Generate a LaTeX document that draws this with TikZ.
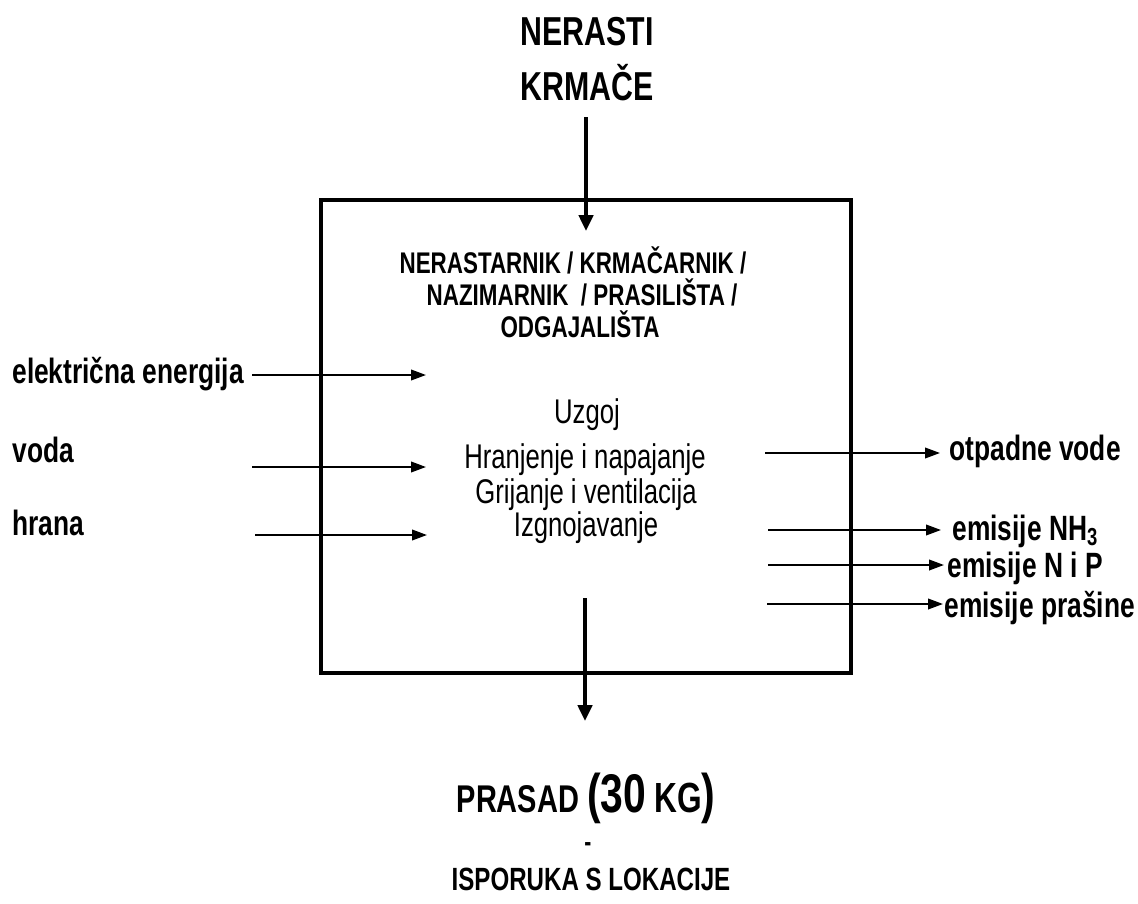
\documentclass[tikz,border=0pt]{standalone}
\usepackage{fontspec}
\setmainfont{Liberation Sans}[FakeStretch=0.75]
\usetikzlibrary{arrows.meta}

\begin{document}
\begin{tikzpicture}[
                x=0.02cm, y=-0.02cm,
                every node/.style={inner sep=0, anchor=base},
                naslov/.style={font=\fontsize{23}{27}\selectfont\bfseries},
                objekt/.style={font=\fontsize{17}{20}\selectfont\bfseries},
                proces/.style={font=\fontsize{19.5}{23}\selectfont},
                oznaka/.style={font=\fontsize{20}{24}\selectfont\bfseries, anchor=base west},
                okvir/.style={draw, line width=2.8pt},
                glavni/.style={line width=2.2pt, -{Triangle[length=9pt, width=8pt]}},
                tok/.style={line width=1.1pt, -{Triangle[length=8.5pt, width=6pt]}}
            ]
            \useasboundingbox (0,0) rectangle (1138,903);
            \draw[okvir] (321,200) rectangle (851,673);
            % ulaz i izlaz
            \node[naslov] (nerasti) at (587,45) {NERASTI};
            \node[naslov] (krmace) at (587,100) {KRMAČE};
            \coordinate (ulazA) at (586,117);
            \coordinate (ulazB) at (586,231);
            \draw[glavni] (ulazA) -- (ulazB);
            \coordinate (izlazA) at (585,598);
            \coordinate (izlazB) at (585,721);
            \draw[glavni] (izlazA) -- (izlazB);
            % objekti
            \node[objekt] (hala1) at (573,273) {NERASTARNIK / KRMAČARNIK /};
            \node[objekt] (hala2) at (582,305) {NAZIMARNIK\ \ / PRASILIŠTA /};
            \node[objekt] (hala3) at (580,337) {ODGAJALIŠTA};
            \node[proces] (uzgoj) at (587,423) {Uzgoj};
            \node[proces] (hranjenje) at (585,468) {Hranjenje i napajanje};
            \node[proces] (grijanje) at (586,503) {Grijanje i ventilacija};
            \node[proces] (gnoj) at (586,536) {Izgnojavanje};
            % ulazi
            \node[oznaka] (struja) at (12,383) {električna energija};
            \node[oznaka] (voda) at (12,462) {voda};
            \node[oznaka] (hrana) at (12,535) {hrana};
            \coordinate (strujaA) at (252,375);
            \coordinate (strujaB) at (426,375);
            \coordinate (vodaA) at (252,467);
            \coordinate (vodaB) at (426,467);
            \coordinate (hranaA) at (255,535);
            \coordinate (hranaB) at (427,535);
            \draw[tok] (strujaA) -- (strujaB);
            \draw[tok] (vodaA) -- (vodaB);
            \draw[tok] (hranaA) -- (hranaB);
            % izlazi
            \node[oznaka] (otpad) at (949,460) {otpadne vode};
            \node[oznaka] (amonijak) at (952,540) {emisije NH\textsubscript{3}};
            \node[oznaka] (nip) at (947,577) {emisije N i P};
            \node[oznaka] (prasina) at (944,617) {emisije prašine};
            \coordinate (otpadA) at (765,453);
            \coordinate (otpadB) at (940,453);
            \coordinate (amonijakA) at (768,530);
            \coordinate (amonijakB) at (941,530);
            \coordinate (nipA) at (768,565);
            \coordinate (nipB) at (944,565);
            \coordinate (prasinaA) at (767,604);
            \coordinate (prasinaB) at (943,604);
            \draw[tok] (otpadA) -- (otpadB);
            \draw[tok] (amonijakA) -- (amonijakB);
            \draw[tok] (nipA) -- (nipB);
            \draw[tok] (prasinaA) -- (prasinaB);
            % prasad
            \node[font=\bfseries] (prasad) at (586,812) {\fontsize{22}{26}\selectfont PRASAD
                {\fontsize{31}{34}\selectfont (30} {\fontsize{24}{26}\selectfont KG}{\fontsize{31}{34}\selectfont )}};
            \node[font=\fontsize{16}{18}\selectfont\bfseries, anchor=center] (crtica) at (588,847) {-};
            \node[font=\fontsize{18.3}{22}\selectfont\bfseries] (isporuka) at (591,890) {ISPORUKA S LOKACIJE};
            \end{tikzpicture}
\end{document}
